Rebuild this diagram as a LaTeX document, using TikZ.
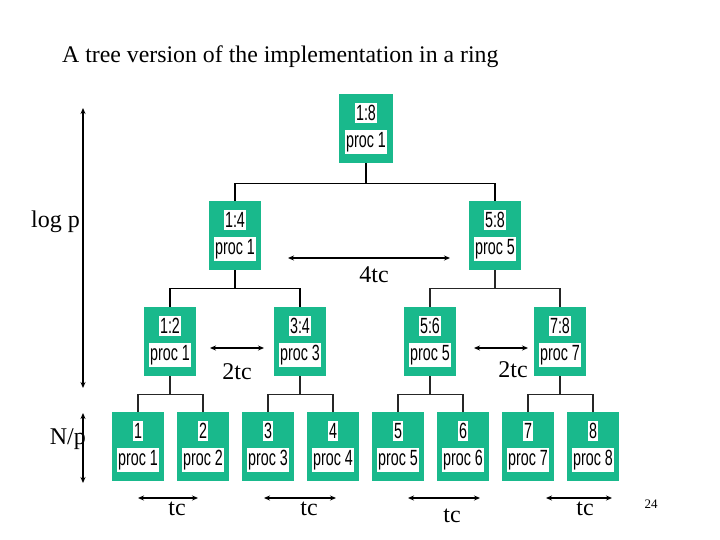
\documentclass[tikz,border=0pt]{standalone}
\usepackage{fontspec}
\setmainfont{Liberation Serif}
\newfontfamily\boxfont{Liberation Sans}
\usetikzlibrary{arrows.meta}
\definecolor{tealbox}{RGB}{25,185,140}
\begin{document}
\begin{tikzpicture}[x=1pt,y=-1pt,
 pbox/.style={fill=tealbox, minimum width=52pt, minimum height=69pt, inner sep=0pt},
 lab/.style={fill=white, inner xsep=1.5pt, inner ysep=2.5pt, font=\boxfont\fontsize{22}{22}\selectfont},
 lbl/.style={font=\fontsize{24}{24}\selectfont, inner sep=0pt, anchor=base},
 conn/.style={draw=black, line width=1.6pt},
 connb/.style={draw=black!85, line width=1.2pt},
 dimline/.style={line width=1.8pt, {Stealth[length=6pt,width=5pt]}-{Stealth[length=6pt,width=5pt]}}
]
\useasboundingbox (0,0) rectangle (720,540);
\newcommand\mkproc[6][]{%
 \node[pbox, anchor=north, #1] (#2) at (#3,#4) {};
 \node[lab] (#2t) at ([yshift=-19pt]#2.north) {\scalebox{0.65}[1]{#5}};
 \node[lab] (#2b) at ([yshift=-48pt]#2.north) {\scalebox{0.65}[1]{#6}};
}
% title
\node[lbl, anchor=base west] (title) at (62,63) {\fontsize{23.8}{24}\selectfont A tree version of the implementation in a ring};
% boxes
\mkproc[minimum width=54pt]{r}{366}{94}{1:8}{proc 1}
\mkproc{a}{235}{201}{1:4}{proc 1}
\mkproc{b}{495}{201}{5:8}{proc 5}
\mkproc{c1}{170}{307}{1:2}{proc 1}
\mkproc{c2}{300}{307}{3:4}{proc 3}
\mkproc{c3}{430}{307}{5:6}{proc 5}
\mkproc{c4}{560}{307}{7:8}{proc 7}
\mkproc{l1}{138}{412}{1}{proc 1}
\mkproc{l2}{203}{412}{2}{proc 2}
\mkproc{l3}{268}{412}{3}{proc 3}
\mkproc{l4}{333}{412}{4}{proc 4}
\mkproc{l5}{398}{412}{5}{proc 5}
\mkproc{l6}{463}{412}{6}{proc 6}
\mkproc{l7}{528}{412}{7}{proc 7}
\mkproc{l8}{593}{412}{8}{proc 8}
% connectors
\draw[conn] (r.south) -- ++(0,20) coordinate (jr);
\draw[conn] (jr) -| (a.north);
\draw[conn] (jr) -| (b.north);
\draw[conn] (a.south) -- ++(0,18) coordinate (ja);
\draw[conn] (ja) -| (c1.north);
\draw[conn] (ja) -| (c2.north);
\draw[connb] (b.south) -- ++(0,18) coordinate (jb);
\draw[connb] (jb) -| (c3.north);
\draw[connb] (jb) -| (c4.north);
\draw[connb] (c1.south) -- ++(0,18) coordinate (jc1);
\draw[connb] (jc1) -| (l1.north); \draw[connb] (jc1) -| (l2.north);
\draw[connb] (c2.south) -- ++(0,18) coordinate (jc2);
\draw[connb] (jc2) -| (l3.north); \draw[connb] (jc2) -| (l4.north);
\draw[connb] (c3.south) -- ++(0,18) coordinate (jc3);
\draw[connb] (jc3) -| (l5.north); \draw[connb] (jc3) -| (l6.north);
\draw[connb] (c4.south) -- ++(0,18) coordinate (jc4);
\draw[connb] (jc4) -| (l7.north); \draw[connb] (jc4) -| (l8.north);
% dimension arrows
\coordinate (lpA) at (83,108); \coordinate (lpB) at (83,388);
\coordinate (npA) at (83,413); \coordinate (npB) at (83,483);
\draw[dimline] (lpA) -- (lpB);
\draw[dimline] (npA) -- (npB);
\coordinate (f1) at (288,258); \coordinate (f2) at (450,258);
\draw[dimline] (f1) -- (f2);
\coordinate (t1) at (210,348); \coordinate (t2) at (264,348);
\draw[dimline] (t1) -- (t2);
\coordinate (t3) at (474,348); \coordinate (t4) at (528,348);
\draw[dimline] (t3) -- (t4);
\coordinate (o1) at (138,498); \coordinate (o2) at (198,498);
\coordinate (o3) at (264,498); \coordinate (o4) at (336,498);
\coordinate (o5) at (408,498); \coordinate (o6) at (480,498);
\coordinate (o7) at (546,498); \coordinate (o8) at (612,498);
\draw[dimline] (o1) -- (o2);
\draw[dimline] (o3) -- (o4);
\draw[dimline] (o5) -- (o6);
\draw[dimline] (o7) -- (o8);
% labels
\node[lbl, anchor=base east] (logp) at (80,227) {log p};
\node[lbl, anchor=base east] (np) at (86,444) {N/p};
\node[lbl] (l4tc) at (374,282) {4tc};
\node[lbl] (l2tca) at (237,379) {2tc};
\node[lbl] (l2tcb) at (513,377) {2tc};
\node[lbl] (tca) at (177,515) {tc};
\node[lbl] (tcb) at (309,515) {tc};
\node[lbl] (tcc) at (452,522) {tc};
\node[lbl] (tcd) at (585,515) {tc};
\node[lbl, font=\fontsize{13}{13}\selectfont] (pg) at (651,508) {24};
\end{tikzpicture}
\end{document}
